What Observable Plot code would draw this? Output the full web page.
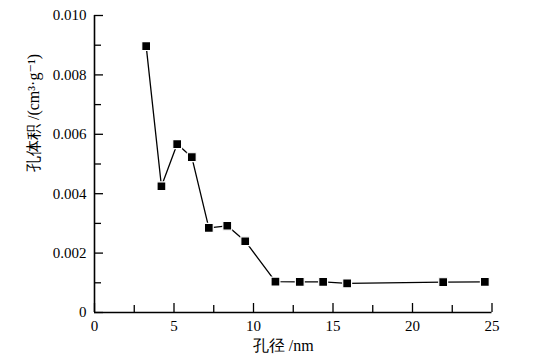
<!DOCTYPE html>
<html>
<head>
<meta charset="utf-8">
<script src="https://cdn.jsdelivr.net/npm/d3@7"></script>
<script src="https://cdn.jsdelivr.net/npm/@observablehq/plot@0.6"></script>
<style>
  html, body { margin: 0; padding: 0; background: #fff; }
  #chart svg text { font-family: "Liberation Serif", "Times New Roman", Times, "DejaVu Serif", serif !important; }
</style>
</head>
<body>
<div id="chart"></div>
<script>
const poreDiameter = [3.25, 4.21, 5.20, 6.12, 7.19, 8.35, 9.48, 11.38, 12.91, 14.38, 15.89, 21.93, 24.55];
const poreVolume = [0.00897, 0.00425, 0.00567, 0.00523, 0.00285, 0.00292, 0.00240, 0.00104, 0.00103, 0.00103, 0.00098, 0.00102, 0.00103];
const xMajorTicks = [0, 5, 10, 15, 20, 25];
const xMinorTicks = [2.5, 7.5, 12.5, 17.5, 22.5];
const yMajorTicks = [0, 0.002, 0.004, 0.006, 0.008, 0.010];
const yMinorTicks = [0.001, 0.003, 0.005, 0.007, 0.009];
const xLabel = "孔径 /nm";
const yLabel = "孔体积 /(cm³·g⁻¹)";

const data = poreDiameter.map((x, i) => ({x, y: poreVolume[i]}));

const W = 540, H = 363;
const mL = 94, mR = 48.5, mT = 15, mB = 51;
const innerW = W - mL - mR, innerH = H - mT - mB;
const FF = "'Liberation Serif', 'Times New Roman', Times, 'DejaVu Serif', serif";

const chart = Plot.plot({
  width: W,
  height: H,
  marginLeft: mL,
  marginRight: mR,
  marginTop: mT,
  marginBottom: mB,
  style: {fontFamily: FF, fontSize: "15px", color: "#000", background: "#fff"},
  x: {domain: [0, 25]},
  y: {domain: [0, 0.010]},
  marks: [
    Plot.axisX(xMajorTicks, {tickSize: 0, tickPadding: 8, fontSize: 15, label: null, tickFormat: d => String(d)}),
    Plot.axisY(yMajorTicks, {tickSize: 0, tickPadding: 8, fontSize: 15, label: null, tickFormat: d => d === 0 ? "0" : d.toFixed(3)}),
    Plot.tickX(xMajorTicks, {x: d => d, insetTop: innerH - 9, stroke: "#000", strokeWidth: 1.3}),
    Plot.tickX(xMinorTicks, {x: d => d, insetTop: innerH - 7, stroke: "#000", strokeWidth: 1.3}),
    Plot.tickY(yMajorTicks, {y: d => d, insetRight: innerW - 9, stroke: "#000", strokeWidth: 1.3}),
    Plot.tickY(yMinorTicks, {y: d => d, insetRight: innerW - 7, stroke: "#000", strokeWidth: 1.3}),
    Plot.ruleX([0], {stroke: "#000", strokeWidth: 1.6}),
    Plot.ruleY([0], {stroke: "#000", strokeWidth: 1.6}),
    Plot.line(data, {x: "x", y: "y", stroke: "#000", strokeWidth: 1.3}),
    Plot.dot(data, {x: "x", y: "y", symbol: "square", r: 5, fill: "#000", stroke: "#fff", strokeWidth: 1.2}),
    Plot.text([xLabel], {frameAnchor: "bottom", dy: 38, dx: -10, text: d => d, fontSize: 16, fill: "#000"}),
    Plot.text([yLabel], {frameAnchor: "left", dx: -61, dy: 8, rotate: -90, text: d => d, fontSize: 16, fill: "#000"})
  ]
});
document.getElementById("chart").appendChild(chart);
</script>
</body>
</html>
